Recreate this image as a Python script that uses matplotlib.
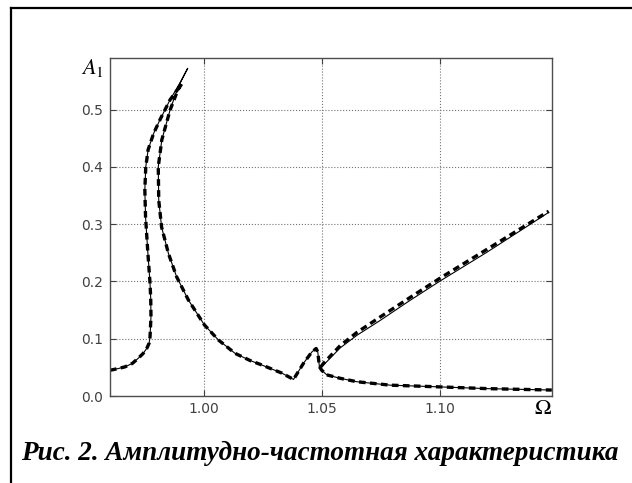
#!/usr/bin/env python3
''' Amplitude-frequency response A1(Omega), solid and dashed curves '''
import matplotlib
matplotlib.use('Agg')
from matplotlib import pyplot as plt
from matplotlib.lines import Line2D

# Solid curve: left resonance loop, small spike, then lower branch
omega_main = [0.960, 0.9635, 0.9664, 0.9695, 0.972, 0.974, 0.9756, 0.9766, 0.977,
              0.9774, 0.9773, 0.977, 0.976, 0.9751, 0.9748, 0.9752, 0.9762, 0.9785,
              0.9812, 0.9855, 0.9895, 0.993, 0.9889, 0.9855, 0.982, 0.9805, 0.9807,
              0.9819, 0.9848, 0.9883, 0.9933, 1.0001, 1.006, 1.0131, 1.0195, 1.0246,
              1.033, 1.0379, 1.0421, 1.0457, 1.0475, 1.0482, 1.0489]
amp_main = [0.045, 0.048, 0.051, 0.057, 0.066, 0.074, 0.083, 0.092, 0.103,
            0.138, 0.170, 0.197, 0.255, 0.313, 0.360, 0.400, 0.430, 0.458,
            0.482, 0.517, 0.545, 0.572, 0.539, 0.499, 0.447, 0.400, 0.342,
            0.295, 0.249, 0.208, 0.1675, 0.124, 0.098, 0.0745, 0.062, 0.054,
            0.040, 0.029, 0.057, 0.077, 0.083, 0.077, 0.051]

# Lower branch after the spike
omega_low = [1.0489, 1.0499, 1.052, 1.0577, 1.0648, 1.079, 1.100, 1.120, 1.1475]
amp_low = [0.051, 0.045, 0.037, 0.031, 0.025, 0.019, 0.016, 0.013, 0.0105]

# Upper branch (solid)
omega_up = [1.0495, 1.0506, 1.0577, 1.0648, 1.0747, 1.0870, 1.1002, 1.120, 1.1462]
amp_up = [0.050, 0.054, 0.084, 0.106, 0.132, 0.166, 0.201, 0.251, 0.3205]

# Dashed curve: same loop but with a lower tip
omega_dash_main = [0.960, 0.9635, 0.9664, 0.9695, 0.972, 0.974, 0.9756, 0.9766, 0.977,
                   0.9774, 0.9773, 0.977, 0.976, 0.9751, 0.9748, 0.9752, 0.9762, 0.9785,
                   0.9812, 0.9855, 0.9905, 0.9889, 0.9855, 0.982, 0.9805, 0.9807,
                   0.9819, 0.9848, 0.9883, 0.9933, 1.0001, 1.006, 1.0131, 1.0195, 1.0246,
                   1.033, 1.0379, 1.0421, 1.0457, 1.0475, 1.0482, 1.0489]
amp_dash_main = [0.045, 0.048, 0.051, 0.057, 0.066, 0.074, 0.083, 0.092, 0.103,
                 0.138, 0.170, 0.197, 0.255, 0.313, 0.360, 0.400, 0.430, 0.458,
                 0.482, 0.517, 0.545, 0.535, 0.499, 0.447, 0.400, 0.342,
                 0.295, 0.249, 0.208, 0.1675, 0.124, 0.098, 0.0745, 0.062, 0.054,
                 0.040, 0.029, 0.057, 0.077, 0.083, 0.077, 0.051]

# Upper branch (dashed), slightly above the solid one
omega_dash_up = [1.0495, 1.0506, 1.0577, 1.0648, 1.0747, 1.0870, 1.1002, 1.120, 1.1462]
amp_dash_up = [0.051, 0.057, 0.088, 0.111, 0.138, 0.171, 0.206, 0.256, 0.3225]

xticks = [1.00, 1.05, 1.10]
yticks = [0.0, 0.1, 0.2, 0.3, 0.4, 0.5]
caption = 'Рис. 2. Амплитудно-частотная характеристика'

plt.rcParams['mathtext.fontset'] = 'stix'

fig = plt.figure(figsize=(6.32, 4.83), dpi=100)
ax = fig.add_axes([0.174, 0.180, 0.699, 0.700])

dash = dict(color='black', lw=2.4, linestyle=(0, (2.0, 1.3)), solid_capstyle='butt')
ax.plot(omega_dash_main, amp_dash_main, **dash)
ax.plot(omega_low, amp_low, **dash)
ax.plot(omega_dash_up, amp_dash_up, **dash)

thin = dict(color='black', lw=0.8)
ax.plot(omega_main, amp_main, **thin)
ax.plot(omega_low, amp_low, **thin)
ax.plot(omega_up, amp_up, **thin)

ax.set_xlim(0.96, 1.1475)
ax.set_ylim(0.0, 0.59)
ax.set_xticks(xticks)
ax.set_yticks(yticks)
ax.set_xticklabels([f'{t:.2f}' for t in xticks])
ax.set_yticklabels([f'{t:.1f}' for t in yticks])
ax.tick_params(direction='in', length=4, labelsize=10, colors='0.25',
               top=True, right=True)
ax.tick_params(axis='x', pad=4)
ax.tick_params(axis='y', pad=5)
ax.grid(True, linestyle=':', color='0.45', lw=0.8)
for s in ax.spines.values():
    s.set_color('0.3')
    s.set_linewidth(1.0)

ax.text(-0.013, 0.97, r'$A_1$', transform=ax.transAxes, ha='right', va='center',
        fontsize=16)
ax.text(0.98, -0.036, r'$\Omega$', transform=ax.transAxes, ha='center', va='center',
        fontsize=16)

fig.text(0.506, 0.062, caption, ha='center', va='center', fontsize=19.5,
         family='Liberation Serif', weight='bold', style='italic')

# border frame (left and top edges only are visible)
fig.add_artist(Line2D([11 / 632, 11 / 632], [0, 1 - 7.5 / 483], color='black', lw=1.6,
                      transform=fig.transFigure))
fig.add_artist(Line2D([11 / 632, 1], [1 - 7.5 / 483, 1 - 7.5 / 483], color='black', lw=1.6,
                      transform=fig.transFigure))

fig.savefig('out.png', dpi=100)
